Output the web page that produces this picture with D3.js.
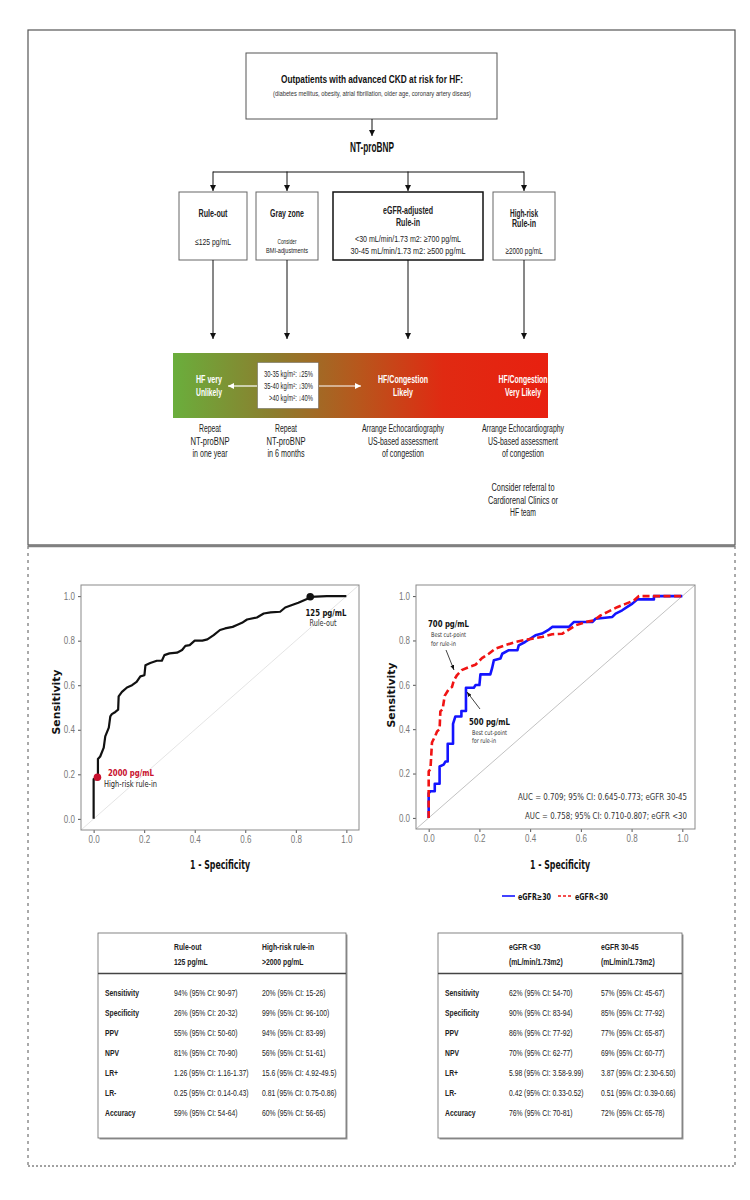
<!DOCTYPE html>
<html><head><meta charset="utf-8">
<script src="https://cdn.jsdelivr.net/npm/d3@7"></script>
<style>body{margin:0;background:#fff}</style>
</head><body>
<svg id="c" width="750" height="1200"></svg>
<script>
// ---------------- DATA ----------------
const axisTicks = [0, 0.2, 0.4, 0.6, 0.8, 1.0];
// Overall ROC (left panel)
const allFpr = [0,0,0.017,0.017,0.026,0.04,0.046,0.06,0.066,0.072,0.086,0.097,0.099,0.112,0.132,0.152,0.17,0.185,0.201,0.205,0.224,0.25,0.27,0.28,0.30,0.33,0.35,0.363,0.38,0.40,0.43,0.45,0.475,0.50,0.52,0.55,0.567,0.587,0.607,0.646,0.673,0.70,0.738,0.758,0.785,0.81,0.844,0.858,0.923,1.0];
const allSens = [0,0.178,0.178,0.269,0.28,0.32,0.37,0.41,0.46,0.47,0.48,0.49,0.55,0.57,0.59,0.60,0.615,0.64,0.645,0.69,0.70,0.71,0.71,0.735,0.743,0.746,0.758,0.777,0.78,0.80,0.80,0.806,0.825,0.848,0.855,0.862,0.87,0.88,0.895,0.904,0.922,0.927,0.93,0.949,0.96,0.97,0.987,0.997,1.0,1.0];
const cutFpr = [0.857, 0.015];
const cutSens = [0.997, 0.187];
const cutColors = ["#111111", "#c8102e"];
// eGFR subgroup ROC (right panel)
const highFpr = [0,0,0.007,0.024,0.024,0.043,0.043,0.059,0.066,0.075,0.075,0.096,0.096,0.105,0.129,0.129,0.147,0.147,0.178,0.185,0.2,0.204,0.243,0.25,0.257,0.283,0.29,0.316,0.35,0.355,0.38,0.421,0.447,0.474,0.487,0.553,0.572,0.645,0.658,0.724,0.737,0.763,0.783,0.803,0.822,0.888,0.888,1.0];
const highSens = [0,0.112,0.12,0.12,0.154,0.154,0.232,0.24,0.254,0.254,0.334,0.334,0.424,0.457,0.457,0.482,0.482,0.587,0.587,0.599,0.599,0.647,0.647,0.675,0.711,0.719,0.74,0.756,0.756,0.778,0.793,0.823,0.831,0.849,0.861,0.861,0.883,0.883,0.898,0.906,0.921,0.936,0.951,0.966,0.985,0.985,1.0,1.0];
const lowFpr = [0,0,0.007,0.013,0.026,0.033,0.043,0.046,0.055,0.063,0.079,0.092,0.099,0.112,0.13,0.158,0.184,0.21,0.237,0.263,0.30,0.342,0.368,0.408,0.447,0.487,0.526,0.553,0.579,0.618,0.651,0.678,0.704,0.743,0.776,0.809,0.829,1.0];
const lowSens = [0,0.21,0.22,0.34,0.37,0.39,0.40,0.48,0.49,0.55,0.58,0.59,0.62,0.644,0.666,0.68,0.69,0.72,0.74,0.763,0.778,0.793,0.80,0.808,0.816,0.828,0.83,0.849,0.868,0.883,0.89,0.913,0.928,0.95,0.965,0.98,1.0,1.0];
const aucLabels = ["AUC = 0.709; 95% CI: 0.645-0.773; eGFR 30-45", "AUC = 0.758; 95% CI: 0.710-0.807; eGFR <30"];
const legendLabels = ["eGFR\u226530", "eGFR<30"];
// Tables
const tableRows = ["Sensitivity","Specificity","PPV","NPV","LR+","LR-","Accuracy"];
const leftHead1 = ["Rule-out","125 pg/mL"];
const leftHead2 = ["High-risk rule-in",">2000 pg/mL"];
const ruleOutVals = ["94% (95% CI: 90-97)","26% (95% CI: 20-32)","55% (95% CI: 50-60)","81% (95% CI: 70-90)","1.26 (95% CI: 1.16-1.37)","0.25 (95% CI: 0.14-0.43)","59% (95% CI: 54-64)"];
const highRiskVals = ["20% (95% CI: 15-26)","99% (95% CI: 96-100)","94% (95% CI: 83-99)","56% (95% CI: 51-61)","15.6 (95% CI: 4.92-49.5)","0.81 (95% CI: 0.75-0.86)","60% (95% CI: 56-65)"];
const rightHead1 = ["eGFR <30","(mL/min/1.73m2)"];
const rightHead2 = ["eGFR 30-45","(mL/min/1.73m2)"];
const lowEgfrVals = ["62% (95% CI: 54-70)","90% (95% CI: 83-94)","86% (95% CI: 77-92)","70% (95% CI: 62-77)","5.98 (95% CI: 3.58-9.99)","0.42 (95% CI: 0.33-0.52)","76% (95% CI: 70-81)"];
const midEgfrVals = ["57% (95% CI: 45-67)","85% (95% CI: 77-92)","77% (95% CI: 65-87)","69% (95% CI: 60-77)","3.87 (95% CI: 2.30-6.50)","0.51 (95% CI: 0.39-0.66)","72% (95% CI: 65-78)"];

// ---------------- DRAW ----------------
const NARROW = "'Liberation Sans',Arial,sans-serif";
const COND = "'DejaVu Sans Condensed','DejaVu Sans',Verdana,sans-serif";
const svg = d3.select("#c");
const defs = svg.append("defs");

function mk(id, color, w, h) {
  defs.append("marker").attr("id", id).attr("viewBox", `0 0 ${w} ${h}`)
    .attr("refX", w).attr("refY", h/2).attr("markerWidth", w).attr("markerHeight", h)
    .attr("markerUnits", "userSpaceOnUse").attr("orient", "auto")
    .append("path").attr("d", `M0,0L${w},${h/2}L0,${h}Z`).attr("fill", color);
}
mk("arrB", "#111", 6, 6);
mk("arrW", "#fff", 6, 6);
mk("arrS", "#111", 5, 4);

// squeeze text horizontally (emulates a narrow face)
function squeeze(t, f) {
  const L = t.node().getComputedTextLength();
  t.attr("textLength", L * f).attr("lengthAdjust", "spacingAndGlyphs");
  return t;
}
function txt(g, x, y, s, o = {}) {
  const t = g.append("text").attr("x", x).attr("y", y).text(s)
    .attr("font-family", o.ff || NARROW).attr("font-size", o.fs || 9)
    .attr("font-weight", o.fw || "normal").attr("fill", o.fill || "#222")
    .attr("text-anchor", o.anchor || "middle");
  if (o.w) t.attr("textLength", o.w).attr("lengthAdjust", "spacingAndGlyphs");
  else if (o.sq) squeeze(t, o.sq);
  return t;
}
function line(g, x1, y1, x2, y2, o = {}) {
  const l = g.append("line").attr("x1", x1).attr("y1", y1).attr("x2", x2).attr("y2", y2)
    .attr("stroke", o.stroke || "#111").attr("stroke-width", o.sw || 1);
  if (o.dash) l.attr("stroke-dasharray", o.dash);
  if (o.marker) l.attr("marker-end", `url(#${o.marker})`);
  return l;
}

// Outer frames
svg.append("rect").attr("x", 28).attr("y", 30).attr("width", 707).attr("height", 515)
  .attr("fill", "none").attr("stroke", "#555").attr("stroke-width", 1.2);
line(svg, 28, 546, 28, 1166, {stroke: "#555", sw: 1, dash: "3,4"});
line(svg, 735, 546, 735, 1166, {stroke: "#555", sw: 1, dash: "3,4"});
line(svg, 28, 1166, 735, 1166, {stroke: "#444", sw: 1, dash: "2,2"});
line(svg, 28, 546, 735, 546, {stroke: "#808080", sw: 2.5});

// ---- Flowchart ----
const fc = svg.append("g");
fc.append("rect").attr("x", 246).attr("y", 53).attr("width", 251).attr("height", 66)
  .attr("fill", "#fff").attr("stroke", "#555").attr("stroke-width", 1);
txt(fc, 372, 82.5, "Outpatients with advanced CKD at risk for HF:", {fw: "bold", fs: 10.5, w: 182, fill: "#111"});
txt(fc, 372, 95.5, "(diabetes mellitus, obesity, atrial fibrillation, older age, coronary artery diseas)", {fs: 6.5, w: 198, fill: "#333"});
line(fc, 372, 119, 372, 136, {marker: "arrB"});
txt(fc, 372, 152, "NT-proBNP", {fw: "bold", fs: 14, w: 44, fill: "#111"});

const boxX = [213, 287, 408, 524];
line(fc, 213, 172, 524, 172, {sw: 1.2});
boxX.forEach(x => line(fc, x, 171.5, x, 191, {marker: "arrB"}));
const boxes = [
  {x: 179, w: 68, thick: false},
  {x: 256, w: 62, thick: false},
  {x: 333, w: 150, thick: true},
  {x: 493, w: 62, thick: false}
];
boxes.forEach(b => fc.append("rect").attr("x", b.x).attr("y", 192).attr("width", b.w).attr("height", 68)
  .attr("fill", "#fff").attr("stroke", b.thick ? "#111" : "#666").attr("stroke-width", b.thick ? 1.5 : 1));
txt(fc, 213, 216.5, "Rule-out", {fw: "bold", fs: 10, w: 29});
txt(fc, 213, 244.5, "\u2264125 pg/mL", {fs: 9.5, w: 36});
txt(fc, 287, 216.5, "Gray zone", {fw: "bold", fs: 10, w: 34});
txt(fc, 287, 243.5, "Consider", {fs: 7.5, w: 19});
txt(fc, 287, 252.5, "BMI-adjustments", {fs: 7.5, w: 42});
txt(fc, 408, 213.5, "eGFR-adjusted", {fw: "bold", fs: 10, w: 50});
txt(fc, 408, 225.5, "Rule-in", {fw: "bold", fs: 10, w: 24});
txt(fc, 408, 241.5, "<30 mL/min/1.73 m2: \u2265700 pg/mL", {fs: 9.5, w: 106});
txt(fc, 408, 253.5, "30-45 mL/min/1.73 m2: \u2265500 pg/mL", {fs: 9.5, w: 115});
txt(fc, 524, 216.5, "High-risk", {fw: "bold", fs: 10, w: 28});
txt(fc, 524, 227, "Rule-in", {fw: "bold", fs: 10, w: 24});
txt(fc, 524, 253.5, "\u22652000 pg/mL", {fs: 9.5, w: 37});
boxX.forEach(x => line(fc, x, 260, x, 339, {marker: "arrB"}));

// gradient bar
const grad = defs.append("linearGradient").attr("id", "g1").attr("x1", "0").attr("x2", "1").attr("y1", "0").attr("y2", "0");
[[0, "#6aae3c"], [0.27, "#8c7d2e"], [0.5, "#b8561c"], [0.72, "#e02a12"], [1, "#e82010"]]
  .forEach(s => grad.append("stop").attr("offset", s[0]).attr("stop-color", s[1]));
fc.append("rect").attr("x", 173).attr("y", 353).attr("width", 375).attr("height", 65).attr("fill", "url(#g1)");
fc.append("rect").attr("x", 257.5).attr("y", 362.5).attr("width", 61).attr("height", 46)
  .attr("fill", "#fff").attr("stroke", "#444").attr("stroke-width", 0.8).attr("stroke-dasharray", "1,1");
txt(fc, 313, 377, "30-35 kg/m\u00b2: \u219325%", {fs: 8.5, w: 49, anchor: "end"});
txt(fc, 313, 389, "35-40 kg/m\u00b2: \u219330%", {fs: 8.5, w: 49, anchor: "end"});
txt(fc, 313, 401, ">40 kg/m\u00b2: \u219340%", {fs: 8.5, w: 44, anchor: "end"});
line(fc, 257, 386, 228, 386, {stroke: "#fff", sw: 1.2, marker: "arrW"});
line(fc, 319, 386, 361, 386, {stroke: "#fff", sw: 1.2, marker: "arrW"});
const wOpt = {fw: "bold", fs: 10.5, fill: "#fff"};
txt(fc, 209, 383, "HF very", {...wOpt, w: 26});
txt(fc, 209, 396, "Unlikely", {...wOpt, w: 26});
txt(fc, 403, 383, "HF/Congestion", {...wOpt, w: 50});
txt(fc, 403, 396, "Likely", {...wOpt, w: 20});
txt(fc, 523, 383, "HF/Congestion", {...wOpt, w: 49});
txt(fc, 523, 396, "Very Likely", {...wOpt, w: 36});

// text under bar
const uOpt = {fs: 10, fill: "#222"};
txt(fc, 210, 432, "Repeat", {...uOpt, w: 22});
txt(fc, 210, 444.5, "NT-proBNP", {...uOpt, w: 39});
txt(fc, 210, 457, "in one year", {...uOpt, w: 35});
txt(fc, 286, 432, "Repeat", {...uOpt, w: 22});
txt(fc, 286, 444.5, "NT-proBNP", {...uOpt, w: 39});
txt(fc, 286, 457, "in 6 months", {...uOpt, w: 37});
txt(fc, 403, 432, "Arrange Echocardiography", {...uOpt, w: 82});
txt(fc, 403, 444.5, "US-based assessment", {...uOpt, w: 70});
txt(fc, 403, 457, "of congestion", {...uOpt, w: 42});
txt(fc, 523, 432, "Arrange Echocardiography", {...uOpt, w: 82});
txt(fc, 523, 444.5, "US-based assessment", {...uOpt, w: 70});
txt(fc, 523, 457, "of congestion", {...uOpt, w: 42});
txt(fc, 523, 491, "Consider referral to", {...uOpt, w: 63});
txt(fc, 523, 503.5, "Cardiorenal Clinics or", {...uOpt, w: 70});
txt(fc, 523, 516, "HF team", {...uOpt, w: 26});

// ---- ROC panels ----
function panel(px0, px1, py0, py1) {
  const g = svg.append("g");
  const x = d3.scaleLinear().domain([-0.05, 1.05]).range([px0, px1]);
  const y = d3.scaleLinear().domain([-0.05, 1.05]).range([py1, py0]);
  const id = "clip" + px0;
  defs.append("clipPath").attr("id", id).append("rect")
    .attr("x", px0).attr("y", py0).attr("width", px1 - px0).attr("height", py1 - py0);
  const inner = g.append("g").attr("clip-path", `url(#${id})`);
  const xa = g.append("g").attr("transform", `translate(0,${py1})`)
    .call(d3.axisBottom(x).tickValues(axisTicks).tickFormat(d3.format(".1f")).tickSize(3).tickPadding(3));
  const ya = g.append("g").attr("transform", `translate(${px0},0)`)
    .call(d3.axisLeft(y).tickValues(axisTicks).tickFormat(d3.format(".1f")).tickSize(3).tickPadding(3));
  [xa, ya].forEach(a => {
    a.select(".domain").remove();
    a.selectAll(".tick line").attr("stroke", "#555");
    a.selectAll(".tick text").attr("font-family", NARROW).attr("font-size", 10).attr("fill", "#777")
      .each(function () { squeeze(d3.select(this), 0.8); });
  });
  g.append("rect").attr("x", px0).attr("y", py0).attr("width", px1 - px0).attr("height", py1 - py0)
    .attr("fill", "none").attr("stroke", "#8a8a8a").attr("stroke-width", 1);
  return {g, inner, x, y};
}
function curve(p, fpr, sens, color, sw, dash) {
  const pts = fpr.map((f, i) => [f, sens[i]]);
  const path = p.inner.append("path").datum(pts)
    .attr("d", d3.line().x(d => p.x(d[0])).y(d => p.y(d[1])))
    .attr("fill", "none").attr("stroke", color).attr("stroke-width", sw).attr("stroke-linejoin", "round");
  if (dash) path.attr("stroke-dasharray", dash);
  return path;
}

// Left panel
const L = panel(81, 359, 585, 830);
L.inner.append("line").attr("x1", L.x(-0.05)).attr("y1", L.y(-0.05)).attr("x2", L.x(1.05)).attr("y2", L.y(1.05))
  .attr("stroke", "#d8d8d8").attr("stroke-width", 0.7);
curve(L, allFpr, allSens, "#111", 2.2);
L.inner.selectAll("circle.cut").data(cutFpr).join("circle")
  .attr("cx", d => L.x(d)).attr("cy", (d, i) => L.y(cutSens[i])).attr("r", 3.8)
  .attr("fill", (d, i) => cutColors[i]);
txt(L.g, 326, 616, "125 pg/mL", {ff: COND, fw: "bold", fs: 9, w: 41, fill: "#111"});
txt(L.g, 323, 625.5, "Rule-out", {ff: COND, fs: 8, w: 27, fill: "#333"});
txt(L.g, 108, 776, "2000 pg/mL", {ff: COND, fw: "bold", fs: 9, w: 46, fill: "#c8102e", anchor: "start"});
txt(L.g, 104, 787, "High-risk rule-in", {ff: COND, fs: 8, w: 53, fill: "#222", anchor: "start"});
txt(L.g, 220, 869, "1 - Specificity", {ff: COND, fw: "bold", fs: 11.5, w: 60, fill: "#111"});
txt(L.g, 0, 0, "Sensitivity", {ff: COND, fw: "bold", fs: 10.5, w: 65, fill: "#111"})
  .attr("transform", "translate(60,702) rotate(-90)");

// Right panel
const R = panel(416, 695, 585, 829);
R.inner.append("line").attr("x1", R.x(-0.05)).attr("y1", R.y(-0.05)).attr("x2", R.x(1.05)).attr("y2", R.y(1.05))
  .attr("stroke", "#a8a8a8").attr("stroke-width", 0.7);
curve(R, highFpr, highSens, "#1414ff", 2.6);
curve(R, lowFpr, lowSens, "#f01414", 2.6, "7,3.5");
txt(R.g, 428, 627, "700 pg/mL", {ff: COND, fw: "bold", fs: 9, w: 41, fill: "#111", anchor: "start"});
txt(R.g, 431, 637, "Best cut-point", {ff: COND, fs: 6.5, w: 35, fill: "#333", anchor: "start"});
txt(R.g, 431, 646, "for rule-in", {ff: COND, fs: 6.5, w: 25, fill: "#333", anchor: "start"});
line(R.g, 446, 650, 454, 670, {sw: 0.8, marker: "arrS"});
txt(R.g, 469, 725, "500 pg/mL", {ff: COND, fw: "bold", fs: 9, w: 41, fill: "#111", anchor: "start"});
txt(R.g, 472, 734.5, "Best cut-point", {ff: COND, fs: 6.5, w: 35, fill: "#333", anchor: "start"});
txt(R.g, 472, 743, "for rule-in", {ff: COND, fs: 6.5, w: 24, fill: "#333", anchor: "start"});
line(R.g, 480, 709, 467, 692, {sw: 0.8, marker: "arrS"});
txt(R.g, 687, 799.5, aucLabels[0], {ff: COND, fs: 8.5, w: 169, fill: "#333", anchor: "end"});
txt(R.g, 687, 818.5, aucLabels[1], {ff: COND, fs: 8.5, w: 162, fill: "#333", anchor: "end"});
txt(R.g, 560, 869, "1 - Specificity", {ff: COND, fw: "bold", fs: 11.5, w: 60, fill: "#111"});
txt(R.g, 0, 0, "Sensitivity", {ff: COND, fw: "bold", fs: 10.5, w: 65, fill: "#111"})
  .attr("transform", "translate(395,695) rotate(-90)");
// legend
const lg = svg.append("g");
const legY = 896;
line(lg, 502, legY, 515, legY, {stroke: "#1414ff", sw: 1.6});
txt(lg, 518, legY + 3.5, legendLabels[0], {ff: COND, fw: "bold", fs: 9, w: 33, fill: "#111", anchor: "start"});
line(lg, 558, legY, 572, legY, {stroke: "#f01414", sw: 1.6, dash: "3,2"});
txt(lg, 575, legY + 3.5, legendLabels[1], {ff: COND, fw: "bold", fs: 9, w: 33, fill: "#111", anchor: "start"});

// ---- Tables ----
function table(x0, x1, cLab, c1, c2, h1, h2, v1, v2) {
  const g = svg.append("g");
  const y0 = 933, y1 = 1138;
  g.append("rect").attr("x", x0 + 1.5).attr("y", y0 + 1.5).attr("width", x1 - x0).attr("height", y1 - y0).attr("fill", "#9a9a9a");
  g.append("rect").attr("x", x0).attr("y", y0).attr("width", x1 - x0).attr("height", y1 - y0)
    .attr("fill", "#fff").attr("stroke", "#666").attr("stroke-width", 0.8);
  line(g, x0, 973.5, x1, 973.5, {stroke: "#444", sw: 1.6});
  const o = {fs: 8.5, fill: "#222", anchor: "start", sq: 0.8};
  txt(g, c1, 949.5, h1[0], {...o, fw: "bold"});
  txt(g, c1, 964.5, h1[1], {...o, fw: "bold"});
  txt(g, c2, 949.5, h2[0], {...o, fw: "bold"});
  txt(g, c2, 964.5, h2[1], {...o, fw: "bold"});
  const ry = d3.scalePoint().domain(tableRows).range([996, 1116]);
  tableRows.forEach((r, i) => {
    txt(g, cLab, ry(r), r, {...o, fw: "bold"});
    txt(g, c1, ry(r), v1[i], o);
    txt(g, c2, ry(r), v2[i], o);
  });
}
table(98, 346, 105, 174, 262, leftHead1, leftHead2, ruleOutVals, highRiskVals);
table(438, 682, 445, 509, 601, rightHead1, rightHead2, lowEgfrVals, midEgfrVals);
</script>
</body></html>
